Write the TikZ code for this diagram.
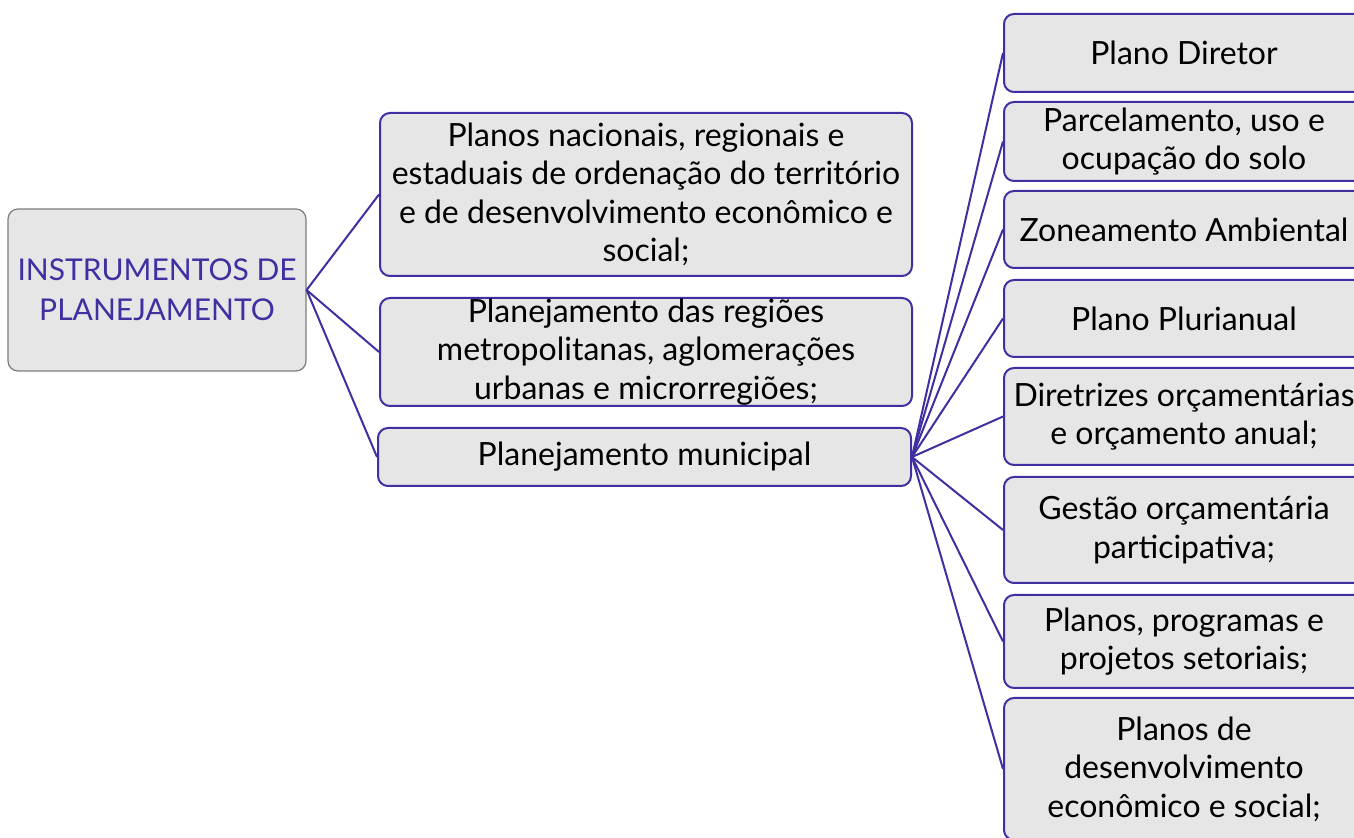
\documentclass[tikz,border=0pt]{standalone}
\usepackage{fontspec}
\setmainfont{Lato}
\usepackage{tikz}
\definecolor{lgrey}{RGB}{230,230,230}
\definecolor{dgrey}{RGB}{125,125,125}
\definecolor{lineblue}{RGB}{62,48,160}

\begin{document}
\begin{tikzpicture}[x=0.5pt,y=-0.5pt,-,thick,line width=1pt]
      \tikzstyle{box}=[rectangle,rounded corners=5pt,fill=lgrey,draw=lineblue,text=black,align=center,inner sep=0pt,font=\fontsize{16}{19.2}\selectfont]
      \tikzstyle{rootbox}=[box,draw=dgrey,line width=0.6pt,text=lineblue,font=\fontsize{15}{20}\selectfont]
      \tikzstyle{leaf}=[box,minimum width=180pt]
      \tikzstyle{link}=[draw=lineblue,line width=1pt]

      \useasboundingbox (0,0) rectangle (1354,838);

      \node[rootbox,minimum width=149pt,minimum height=81pt]	(root) at (157,290) {INSTRUMENTOS DE\\PLANEJAMENTO};

      \node[box,minimum width=266pt,minimum height=81.5pt]	(nac) at (646,194.5) {Planos nacionais, regionais e\\estaduais de ordenação do território\\e de desenvolvimento econômico e\\social;};
      \node[box,minimum width=266pt,minimum height=54pt]	(reg) at (646,352) {Planejamento das regiões\\metropolitanas, aglomerações\\urbanas e microrregiões;};
      \node[box,minimum width=266.5pt,minimum height=29pt]	(mun) at (644.5,457) {Planejamento municipal};

      \node[leaf,minimum height=39pt]	(m1) at (1184,53) {Plano Diretor};
      \node[leaf,minimum height=39.5pt]	(m2) at (1184,141.5) {Parcelamento, uso e\\ocupação do solo};
      \node[leaf,minimum height=38.5pt]	(m3) at (1184,229.5) {Zoneamento Ambiental};
      \node[leaf,minimum height=38.5pt]	(m4) at (1184,318.5) {Plano Plurianual};
      \node[leaf,minimum height=48.5pt]	(m5) at (1184,416.5) {Diretrizes orçamentárias\\e orçamento anual;};
      \node[leaf,minimum height=53pt]	(m6) at (1184,530) {Gestão orçamentária\\participativa;};
      \node[leaf,minimum height=46.5pt]	(m7) at (1184,641.5) {Planos, programas e\\projetos setoriais;};
      \node[leaf,minimum height=71pt]	(m8) at (1184,769) {Planos de\\desenvolvimento\\econômico e social;};

      \path[link]
	(root.east) edge	(nac.west)
	(root.east) edge	(reg.west)
	(root.east) edge	(mun.west);
      \foreach \m in {m1,m2,m3,m4,m5,m6,m7,m8}
	\path[link] (mun.east) edge (\m.west);
  \end{tikzpicture}
\end{document}
